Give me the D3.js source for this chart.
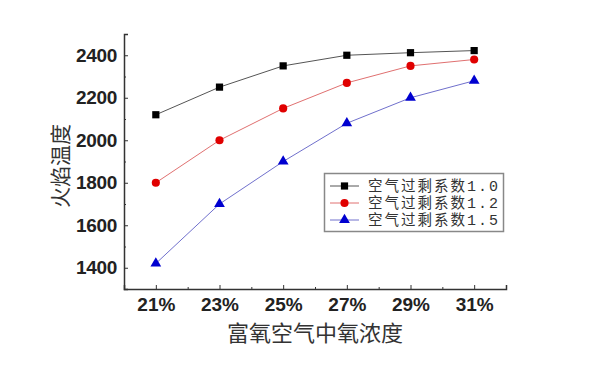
<!DOCTYPE html>
<html><head><meta charset="utf-8">
<script src="https://cdn.jsdelivr.net/npm/d3@7"></script>
<style>body{margin:0;background:#fff}svg{display:block}</style>
</head><body>
<svg id="c" width="605" height="378"></svg>
<script>
const xValues = [21, 23, 25, 27, 29, 31];
const xTickLabels = ["21%", "23%", "25%", "27%", "29%", "31%"];
const yTicks = [1400, 1600, 1800, 2000, 2200, 2400];
const series10 = [2120, 2250, 2350, 2400, 2412, 2422];
const series12 = [1800, 2000, 2150, 2270, 2350, 2380];
const series15 = [1420, 1700, 1900, 2080, 2200, 2280];
const seriesNames = ["空气过剩系数1.0", "空气过剩系数1.2", "空气过剩系数1.5"];
const xTitle = "富氧空气中氧浓度";
const yTitle = "火焰温度";

const svg = d3.select("#c");
const L = 124, R = 506, T = 34, B = 289;
const x = d3.scaleLinear().domain([20, 32]).range([L, R]);
const y = d3.scaleLinear().domain([1300, 2500]).range([B, T]);

const seriesData = [
  {vals: series10, line: "#555", fill: "#000", shape: d3.symbolSquare, size: 52},
  {vals: series12, line: "#e07070", fill: "#e00000", shape: d3.symbolCircle, size: 52},
  {vals: series15, line: "#7070cc", fill: "#0000d0", shape: d3.symbolTriangle, size: 50}
];

const tickFont = "Liberation Sans, Arial, sans-serif";

// axes
const xAxis = d3.axisBottom(x).tickValues(xValues).tickSize(-4).tickFormat((d,i)=>xTickLabels[i]).tickPadding(9);
const gx = svg.append("g").attr("transform", `translate(0,${B})`).call(xAxis);
gx.select(".domain").attr("stroke", "#333").attr("stroke-width", 1.5);
gx.selectAll(".tick line").attr("stroke", "#333");
gx.selectAll("text").attr("font-family", tickFont).attr("font-weight", "bold").attr("font-size", 19).attr("fill", "#222");
const gxm = svg.append("g").attr("transform", `translate(0,${B})`).call(d3.axisBottom(x).tickValues([22,24,26,28,30]).tickSize(-2).tickFormat(""));
gxm.select(".domain").remove();
gxm.selectAll(".tick line").attr("stroke", "#333");

const yAxis = d3.axisLeft(y).tickValues(yTicks).tickSize(-4).tickPadding(7).tickFormat(d3.format("d"));
const gy = svg.append("g").attr("transform", `translate(${L},0)`).call(yAxis);
gy.select(".domain").attr("stroke", "#333").attr("stroke-width", 1.5);
gy.selectAll(".tick line").attr("stroke", "#333");
gy.selectAll("text").attr("font-family", tickFont).attr("font-weight", "bold").attr("font-size", 19).attr("fill", "#222").attr("letter-spacing", "-0.3");
const gym = svg.append("g").attr("transform", `translate(${L},0)`).call(d3.axisLeft(y).tickValues([1500,1700,1900,2100,2300]).tickSize(-2).tickFormat(""));
gym.select(".domain").remove();
gym.selectAll(".tick line").attr("stroke", "#333");

// series
const line = d3.line().x((d,i)=>x(xValues[i])).y(d=>y(d));
seriesData.forEach(s => {
  svg.append("path").datum(s.vals).attr("d", line).attr("fill", "none").attr("stroke", s.line).attr("stroke-width", 1);
  svg.selectAll(null).data(s.vals).enter().append("path")
    .attr("d", d3.symbol().type(s.shape).size(s.size))
    .attr("transform", (d,i)=>`translate(${x(xValues[i])},${y(d)})`)
    .attr("fill", s.fill);
});

// legend
const lg = svg.append("g");
lg.append("rect").attr("x", 324.5).attr("y", 173.5).attr("width", 179).attr("height", 58)
  .attr("fill", "#fff").attr("stroke", "#888").attr("stroke-width", 1.5);
seriesNames.forEach((n, i) => {
  const yy = 186 + i * 17;
  const s = seriesData[i];
  lg.append("line").attr("x1", 330).attr("x2", 359).attr("y1", yy).attr("y2", yy).attr("stroke", s.line).attr("stroke-width", 1);
  lg.append("path").attr("d", d3.symbol().type(s.shape).size(s.size)).attr("transform", `translate(344.5,${yy})`).attr("fill", s.fill);
  const t = lg.append("text").attr("x", 368).attr("y", yy + 5).attr("font-size", 14.5).attr("fill", "#333")
    .attr("textLength", 130).attr("lengthAdjust", "spacing");
  t.append("tspan").attr("font-family", "Noto Sans CJK SC, sans-serif").text(n.slice(0, 6));
  t.append("tspan").attr("font-family", "Liberation Mono, DejaVu Sans Mono, monospace").attr("font-size", 15).text(n.slice(6));
});

// titles
svg.append("text").attr("x", (L+R)/2).attr("y", 341).attr("text-anchor", "middle")
  .attr("font-family", "Noto Sans CJK SC, sans-serif").attr("font-size", 22).attr("fill", "#333").text(xTitle);
svg.append("text").attr("transform", `translate(68,166) rotate(-90)`).attr("text-anchor", "middle")
  .attr("font-family", "Noto Sans CJK SC, sans-serif").attr("font-size", 21).attr("fill", "#333").text(yTitle);
</script>
</body></html>
